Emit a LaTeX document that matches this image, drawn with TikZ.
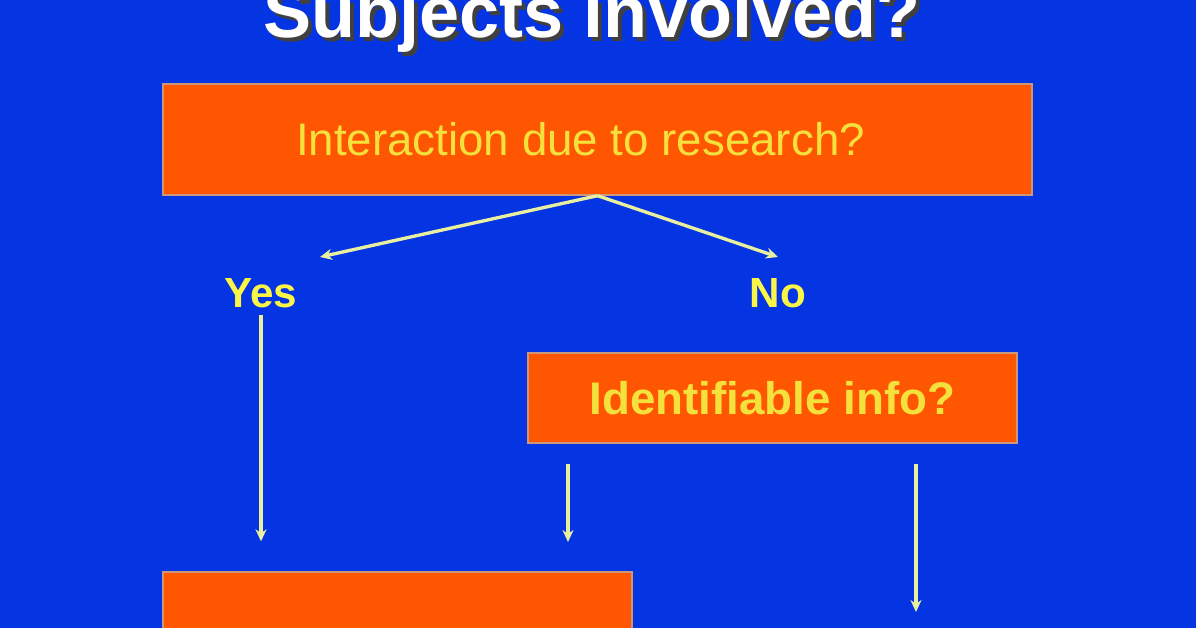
\documentclass[tikz,border=0pt]{standalone}
\usepackage{fontspec}
\setmainfont{Liberation Sans}
\usetikzlibrary{arrows.meta}
\definecolor{slideblue}{RGB}{5,52,226}
\definecolor{boxorange}{RGB}{255,86,2}
\definecolor{boxrim}{RGB}{205,150,120}
\definecolor{askyellow}{RGB}{245,225,60}
\definecolor{answeryellow}{RGB}{250,245,70}
\definecolor{arrowyellow}{RGB}{232,240,160}
\begin{document}
\begin{tikzpicture}[x=0.02cm,y=-0.02cm,
    askbox/.style={draw=boxrim, line width=0.8pt, fill=boxorange, inner sep=0pt, text=askyellow},
    answer/.style={text=answeryellow, font=\fontsize{24}{28}\selectfont\bfseries, anchor=base, inner sep=4pt},
    arr/.style={draw=arrowyellow, line width=1.9pt, -{Stealth[length=0.24cm,width=0.22cm]}}]

    \clip (0,0) rectangle (1196,628);
    \fill[slideblue] (0,0) rectangle (1196,628);

    % title, cut by the top edge
    \node[anchor=base, text=black!75, font=\fontsize{41}{44}\selectfont\bfseries] (titleshadow) at (596,42) {Subjects involved?};
    \node[anchor=base, text=white, font=\fontsize{41}{44}\selectfont\bfseries] (title) at (592,38) {Subjects involved?};

    \node[askbox, minimum width=17.38cm, minimum height=2.22cm, font=\fontsize{26}{30}\selectfont] (interaction) at (597.5,139.5) {Interaction due to research?\makebox[0.68cm]{}};

    \node[answer] (yes) at (261,307) {Yes};
    \node[answer] (no) at (778,307) {No};

    \node[askbox, minimum width=9.78cm, minimum height=1.8cm, font=\fontsize{26}{30}\selectfont\bfseries] (identify) at (772.5,398) {Identifiable info?};

    \node[askbox, minimum width=9.38cm, minimum height=2.4cm] (outcome) at (397.5,632) {};

    \coordinate (yestip) at (320,257);
    \coordinate (notip) at (778,257);
    \coordinate (leftend) at (568,542);
    \coordinate (rightend) at (916,612);

    \draw[arr] (interaction.south) -- (yestip);
    \draw[arr] (interaction.south) -- (notip);
    \draw[arr, shorten >=0.6cm] (yes.south) -- (yes.south |- outcome.north);
    \draw[arr, shorten <=0.4cm] (identify.south -| leftend) -- (leftend);
    \draw[arr, shorten <=0.4cm] (identify.south -| rightend) -- (rightend);
\end{tikzpicture}
\end{document}
